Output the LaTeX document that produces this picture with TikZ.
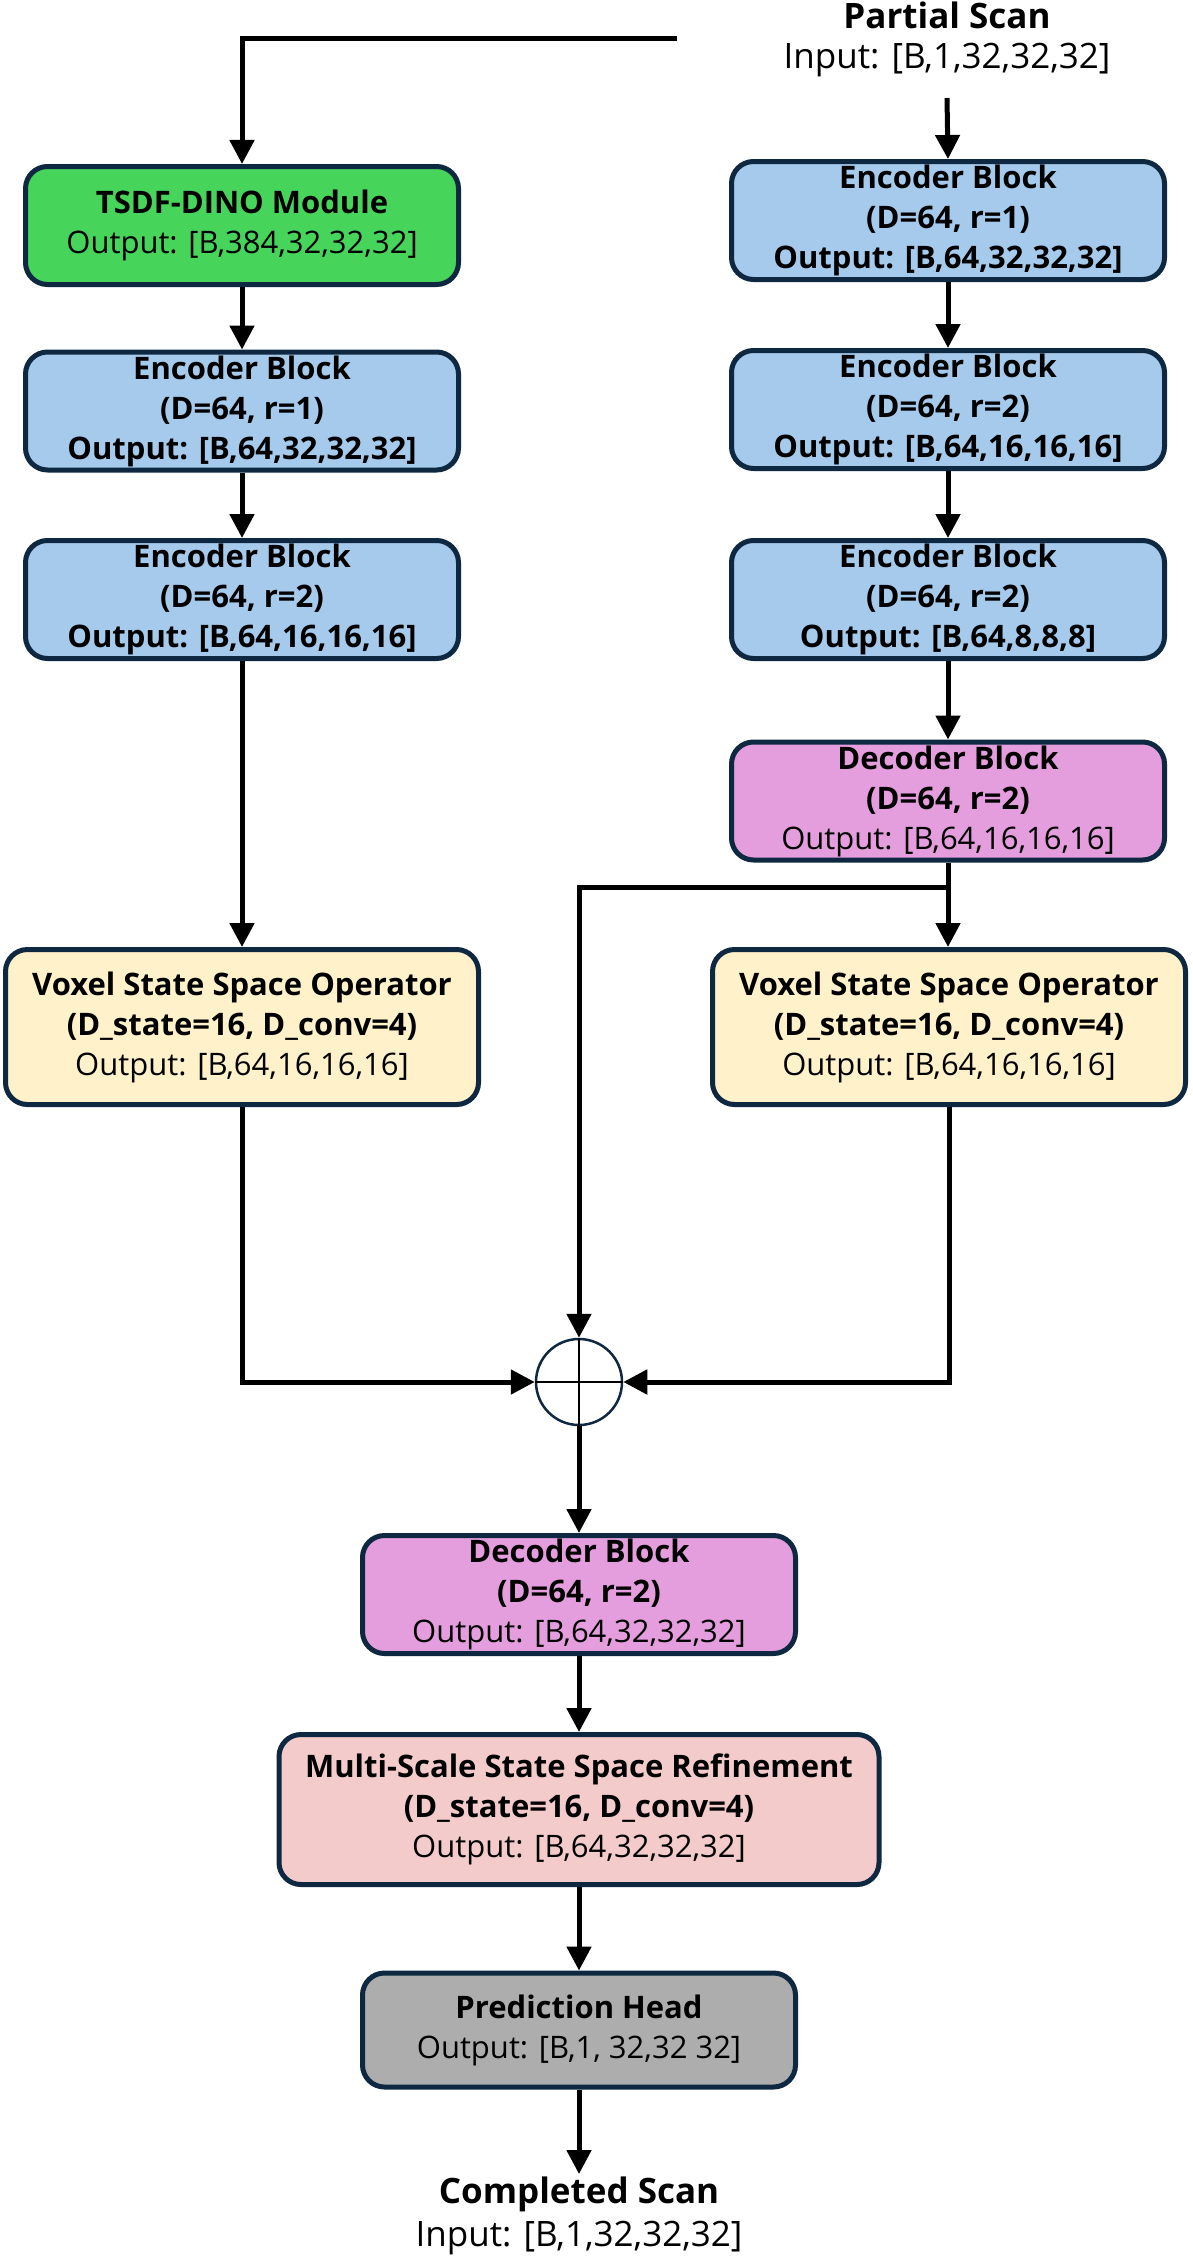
\documentclass[tikz,border=0pt]{standalone}
\usepackage{fontspec}
\setmainfont{Open Sans}
\usetikzlibrary{arrows.meta}
\definecolor{bord}{HTML}{0E2841}
\definecolor{cgreen}{HTML}{47D45A}
\definecolor{cblue}{HTML}{A6CAEC}
\definecolor{cyellow}{HTML}{FFF1C9}
\definecolor{cviolet}{HTML}{E49EDD}
\definecolor{csalmon}{HTML}{F4CBCB}
\definecolor{cgrey}{HTML}{ADADAD}
\begin{document}
\begin{tikzpicture}[x=1pt,y=-1pt,
  blk/.style={draw=bord, line width=5pt, rounded corners=22pt, align=center,
    font=\fontsize{31}{40}\selectfont, inner sep=0pt},
  narrow/.style={blk, minimum width=433pt, minimum height=118pt},
  wide/.style={blk, minimum width=473pt, minimum height=155pt},
  conn/.style={line width=5pt, -{Triangle[length=24pt,width=24pt]}},
  plain/.style={line width=5pt},
  lbl/.style={font=\fontsize{35}{46}\selectfont, align=center, inner sep=0pt}]
\useasboundingbox (0,0) rectangle (1192,2256);

\node[lbl] (pstitle) at (947,15) {\textbf{Partial Scan}};
\node[lbl] (psinput) at (947,60) {Input: [B,1,32,32,32]};
\coordinate (pstop) at (947,98);
\coordinate (lineend) at (677,39);

\node[narrow, fill=cgreen] (tsdf) at (242,225.5) {\textbf{TSDF-DINO Module}\\Output: [B,384,32,32,32]};
\node[narrow, fill=cblue] (encL1) at (242,411) {\textbf{Encoder Block}\\\textbf{(D=64, r=1)}\\\textbf{Output: [B,64,32,32,32]}};
\node[narrow, fill=cblue] (encL2) at (242,599.5) {\textbf{Encoder Block}\\\textbf{(D=64, r=2)}\\\textbf{Output: [B,64,16,16,16]}};
\node[wide, fill=cyellow] (vssoL) at (242,1027) {\textbf{Voxel State Space Operator}\\\textbf{(D\_state=16, D\_conv=4)}\\Output: [B,64,16,16,16]};

\node[narrow, fill=cblue] (encR1) at (948,220.5) {\textbf{Encoder Block}\\\textbf{(D=64, r=1)}\\\textbf{Output: [B,64,32,32,32]}};
\node[narrow, fill=cblue] (encR2) at (948,409.5) {\textbf{Encoder Block}\\\textbf{(D=64, r=2)}\\\textbf{Output: [B,64,16,16,16]}};
\node[narrow, fill=cblue] (encR3) at (948,599.5) {\textbf{Encoder Block}\\\textbf{(D=64, r=2)}\\\textbf{Output: [B,64,8,8,8]}};
\node[narrow, fill=cviolet] (decR) at (948,801) {\textbf{Decoder Block}\\\textbf{(D=64, r=2)}\\Output: [B,64,16,16,16]};
\node[wide, fill=cyellow] (vssoR) at (949,1027) {\textbf{Voxel State Space Operator}\\\textbf{(D\_state=16, D\_conv=4)}\\Output: [B,64,16,16,16]};

\node[circle, draw=bord, line width=2.5pt, fill=white, minimum size=86pt, inner sep=0pt] (plus) at (579,1382) {};
\draw[line width=1.5pt] (plus.north) -- (plus.south) (plus.west) -- (plus.east);

\node[narrow, fill=cviolet] (decB) at (579,1594.5) {\textbf{Decoder Block}\\\textbf{(D=64, r=2)}\\Output: [B,64,32,32,32]};
\node[blk, fill=csalmon, minimum width=600pt, minimum height=150pt] (ms) at (579,1809.5) {\textbf{Multi-Scale State Space Refinement}\\\textbf{(D\_state=16, D\_conv=4)}\\Output: [B,64,32,32,32]};
\node[narrow, fill=cgrey, minimum height=114pt] (pred) at (579,2030) {\textbf{Prediction Head}\\Output: [B,1, 32,32 32]};

\node[lbl] (cstitle) at (579,2194) {\textbf{Completed Scan}};
\node[lbl] (csinput) at (579,2238) {Input: [B,1,32,32,32]};
\coordinate (csarrow) at (579,2174);

% connectors
\draw[conn] (lineend) -| (tsdf.north);
\draw[conn] (pstop) -- (encR1.north);
\draw[conn] (tsdf) -- (encL1);
\draw[conn] (encL1) -- (encL2);
\draw[conn] (encL2) -- (vssoL);
\draw[conn] (encR1) -- (encR2);
\draw[conn] (encR2) -- (encR3);
\draw[conn] (encR3) -- (decR);
\draw[conn] (decR.south) -- (decR.south |- vssoR.north);
\coordinate (branch) at (948,887);
\draw[conn] (branch) -| (plus.north);
\draw[conn] (vssoL.south) |- (plus.west);
\draw[conn] (vssoR.south) |- (plus.east);
\draw[conn] (plus) -- (decB);
\draw[conn] (decB) -- (ms);
\draw[conn] (ms) -- (pred);
\draw[conn] (pred) -- (csarrow);
\end{tikzpicture}
\end{document}
